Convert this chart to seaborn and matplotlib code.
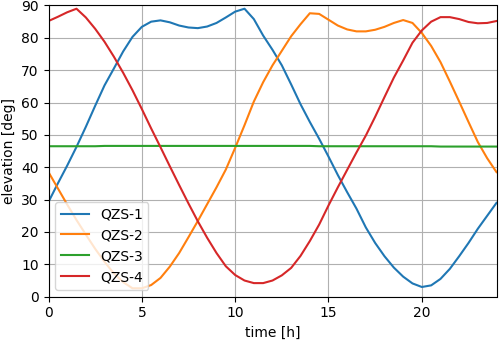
import matplotlib
matplotlib.use("Agg")
import matplotlib.pyplot as plt
import seaborn as sns
import pandas as pd

hours = [0.0, 0.5, 1.0, 1.5, 2.0, 2.5, 3.0, 3.5, 4.0, 4.5, 5.0, 5.5, 6.0, 6.5,
         7.0, 7.5, 8.0, 8.5, 9.0, 9.5, 10.0, 10.5, 11.0, 11.5, 12.0, 12.5,
         13.0, 13.5, 14.0, 14.5, 15.0, 15.5, 16.0, 16.5, 17.0, 17.5, 18.0,
         18.5, 19.0, 19.5, 20.0, 20.5, 21.0, 21.5, 22.0, 22.5, 23.0, 23.5, 24.0]

qzs1 = [29.3, 35.0, 40.5, 46.3, 52.5, 59.0, 65.3, 70.5, 75.8, 80.3, 83.4, 85.0,
        85.4, 84.8, 83.8, 83.2, 83.0, 83.5, 84.6, 86.3, 88.1, 89.0, 85.8, 80.7,
        76.3, 71.5, 65.6, 59.5, 54.0, 48.8, 43.3, 37.6, 32.3, 27.2, 21.4, 16.6,
        12.5, 9.0, 6.2, 4.1, 3.0, 3.5, 5.5, 8.6, 12.5, 16.6, 21.0, 25.0, 29.0]

qzs2 = [38.5, 33.5, 28.5, 23.7, 19.2, 14.8, 10.8, 7.2, 4.5, 2.6, 2.6, 3.6,
        5.8, 9.3, 13.5, 18.4, 23.4, 28.6, 33.8, 39.3, 46.0, 53.0, 60.3, 66.3,
        71.5, 76.0, 80.5, 84.2, 87.6, 87.4, 85.6, 83.8, 82.6, 82.0, 82.0, 82.5,
        83.4, 84.6, 85.5, 84.6, 81.5, 77.5, 72.5, 66.5, 60.3, 54.0, 47.8, 42.8, 38.5]

qzs3 = [46.5, 46.5, 46.5, 46.5, 46.5, 46.5, 46.6, 46.6, 46.6, 46.6, 46.6, 46.6,
        46.6, 46.6, 46.6, 46.6, 46.6, 46.6, 46.6, 46.6, 46.6, 46.6, 46.6, 46.6,
        46.6, 46.6, 46.6, 46.6, 46.6, 46.5, 46.5, 46.5, 46.5, 46.5, 46.5, 46.5,
        46.5, 46.5, 46.5, 46.5, 46.5, 46.5, 46.4, 46.4, 46.4, 46.4, 46.4, 46.4, 46.4]

qzs4 = [85.2, 86.5, 87.9, 89.0, 86.3, 82.8, 78.8, 74.2, 69.2, 63.8, 58.0, 52.0,
        46.2, 40.3, 34.5, 28.8, 23.3, 18.2, 13.5, 9.4, 6.7, 5.0, 4.2, 4.2,
        5.0, 6.6, 8.9, 12.6, 17.2, 22.3, 28.2, 33.8, 39.2, 44.6, 49.8, 55.6,
        61.7, 67.7, 73.0, 78.5, 82.3, 85.0, 86.4, 86.4, 85.8, 84.9, 84.5, 84.6, 85.2]

names = ["QZS-1", "QZS-2", "QZS-3", "QZS-4"]
series = [qzs1, qzs2, qzs3, qzs4]

frames = []
for name, vals in zip(names, series):
    frames.append(pd.DataFrame({"time": hours, "elevation": vals, "sat": name}))
df = pd.concat(frames, ignore_index=True)

plt.rcParams["font.family"] = ["DejaVu Sans"]
plt.rcParams["font.size"] = 10

fig, ax = plt.subplots(figsize=(5.0, 3.43), dpi=100)
fig.subplots_adjust(left=0.097, right=0.993, top=0.984, bottom=0.135)

palette = ["#1f77b4", "#ff7f0e", "#2ca02c", "#d62728"]
sns.lineplot(data=df, x="time", y="elevation", hue="sat", hue_order=names,
             palette=palette, linewidth=1.5, ax=ax, estimator=None, sort=True)

ax.set_xlim(0, 24)
ax.set_ylim(0, 90)
ax.set_xticks([0, 5, 10, 15, 20])
ax.set_yticks([0, 10, 20, 30, 40, 50, 60, 70, 80, 90])
ax.grid(True, color="#b0b0b0", linewidth=0.8)
ax.set_xlabel("time [h]")
ax.set_ylabel("elevation [deg]")
handles, labels = ax.get_legend_handles_labels()
ax.legend(handles, labels, loc="lower left", title=None)

fig.savefig("out.png", dpi=100)
